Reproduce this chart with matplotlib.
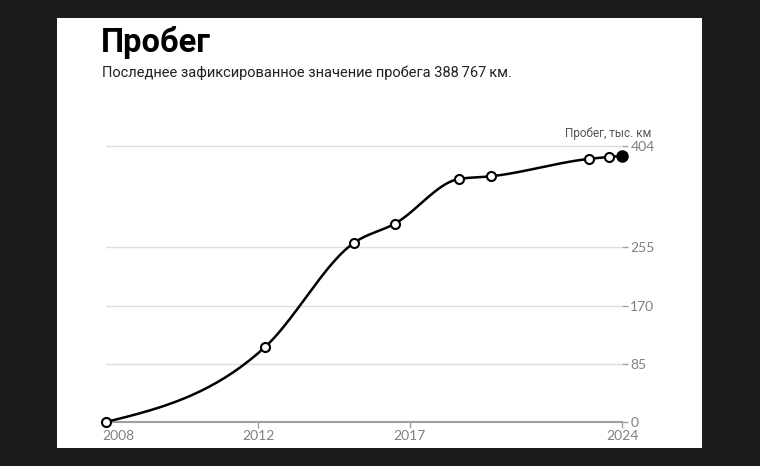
import numpy as np
import matplotlib.pyplot as plt
import matplotlib.transforms as mtransforms
from matplotlib.patches import Rectangle

# mileage data (thousand km) by decimal year
years = [2006.97, 2012.23, 2015.16, 2016.51, 2018.61, 2019.67, 2022.92, 2023.58, 2023.99]
mileage = [0, 110, 262, 290, 355, 359, 384.5, 387.3, 388.767]

x_ticks = [2006.97, 2012, 2017, 2024]
x_labels = ['2008', '2012', '2017', '2024']
y_ticks = [0, 85, 170, 255, 404]
y_max = 404.3

title = 'Пробег'
subtitle = 'Последнее зафиксированное значение пробега 388\u2009767\u2009км.'
y_title = 'Пробег, тыс. км'


def monotone_curve(x, y, n=40):
    # same idea as d3 curveMonotoneX
    x = np.asarray(x, float)
    y = np.asarray(y, float)
    h = np.diff(x)
    s = np.diff(y) / h
    t = np.zeros(len(x))
    for i in range(1, len(x) - 1):
        p = (s[i - 1] * h[i] + s[i] * h[i - 1]) / (h[i - 1] + h[i])
        t[i] = (np.sign(s[i - 1]) + np.sign(s[i])) * min(abs(s[i - 1]), abs(s[i]), 0.5 * abs(p))
    t[0] = (3 * s[0] - t[1]) / 2
    t[-1] = (3 * s[-1] - t[-2]) / 2
    xs, ys = [], []
    for i in range(len(x) - 1):
        u = np.linspace(0, 1, n)
        h00 = 2 * u**3 - 3 * u**2 + 1
        h10 = u**3 - 2 * u**2 + u
        h01 = -2 * u**3 + 3 * u**2
        h11 = u**3 - u**2
        xs.append(x[i] + u * h[i])
        ys.append(h00 * y[i] + h10 * h[i] * t[i] + h01 * y[i + 1] + h11 * h[i] * t[i + 1])
    return np.concatenate(xs), np.concatenate(ys)


fig = plt.figure(figsize=(7.6, 4.66), dpi=100)
fig.patch.set_facecolor('#1c1c1c')
fig.patches.append(Rectangle((57 / 760, 18 / 466), 645 / 760, 430 / 466,
                             transform=fig.transFigure, facecolor='white',
                             edgecolor='none', zorder=-1))

ax = fig.add_axes([106 / 760, 44 / 466, 516 / 760, 276.7 / 466])
ax.set_facecolor('none')

cx, cy = monotone_curve(years, mileage)
ax.plot(cx, cy, color='black', lw=1.8, zorder=3, clip_on=False)
ax.plot(years[:-1], mileage[:-1], 'o', ms=6.5, mfc='white', mec='black', mew=1.5,
        zorder=4, clip_on=False)
ax.plot(years[-1], mileage[-1], 'o', ms=8, color='black', zorder=5, clip_on=False)

ax.set_xlim(years[0], 2024.0)
ax.set_ylim(0, y_max)

for v in y_ticks[1:]:
    ax.axhline(v, color='#dddddd', lw=1, zorder=1)

for side in ['top', 'left', 'right']:
    ax.spines[side].set_visible(False)
ax.spines['bottom'].set_color('#a0a0a0')
ax.spines['bottom'].set_linewidth(1.5)

ax.set_xticks(x_ticks)
ax.set_xticklabels(x_labels)
ax.tick_params(axis='x', length=4, width=1, color='#a0a0a0', pad=2,
               labelsize=10, labelcolor='#808080')
first = ax.get_xticklabels()[0]
first.set_ha('left')
first.set_transform(first.get_transform() +
                    mtransforms.ScaledTranslation(-4 / 100, 0, fig.dpi_scale_trans))
ax.get_xticklines()[0].set_visible(False)

ax.yaxis.tick_right()
ax.set_yticks(y_ticks)
ax.set_yticklabels([str(v) for v in y_ticks])
ax.tick_params(axis='y', length=4, width=1, color='#a0a0a0', pad=2,
               labelsize=10, labelcolor='#808080')
for lab in ax.get_xticklabels() + ax.get_yticklabels():
    lab.set_family(['Lato', 'DejaVu Sans'])

fig.text(651 / 760, 1 - 133 / 466, y_title, ha='right', va='center', fontsize=8.5,
         color='#555555', family=['Roboto', 'DejaVu Sans'])

fig.text(101 / 760, 1 - 52 / 466, title, ha='left', va='baseline', fontsize=23.5,
         fontweight='bold', color='black', family=['Roboto', 'DejaVu Sans'])
fig.text(102 / 760, 1 - 77 / 466, subtitle, ha='left', va='baseline', fontsize=10.5,
         color='#222222', family=['Roboto', 'DejaVu Sans'])

fig.savefig('out.png', dpi=100, facecolor=fig.get_facecolor())
